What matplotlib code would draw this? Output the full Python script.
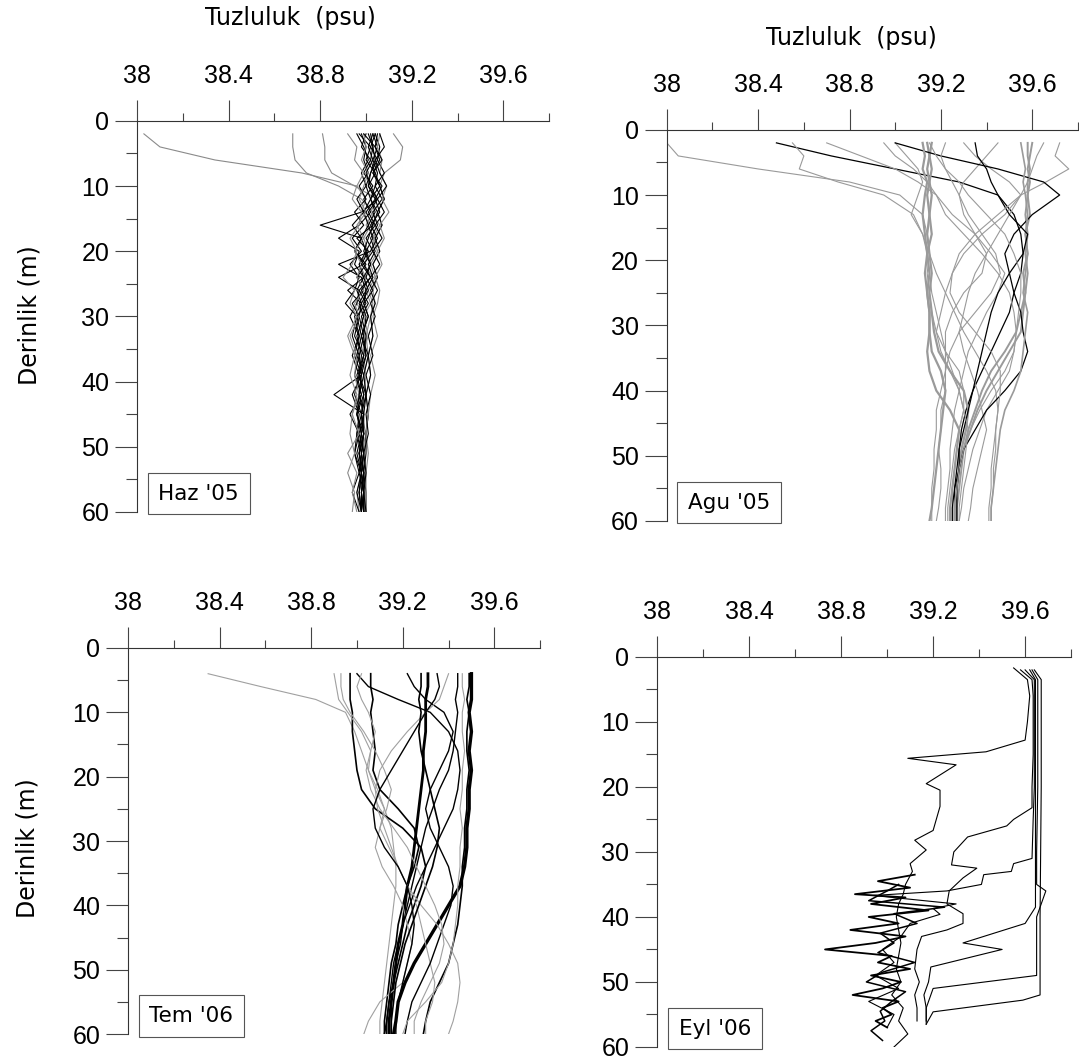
import numpy as np
import matplotlib
matplotlib.use("Agg")
import matplotlib.pyplot as plt
from matplotlib.ticker import MultipleLocator

# --- Haz '05 : salinity (psu) at shared depths (m) ---
haz_depth = [2, 4, 6, 8, 10, 12, 14, 16, 18, 20, 22, 24, 26, 28, 30,
             33, 36, 39, 42, 45, 48, 51, 54, 57, 60]
haz_profiles = [
    [38.03, 38.10, 38.34, 38.72, 38.96, 39.00, 38.98, 39.02, 38.99, 39.01, 38.97, 39.00, 38.98, 38.96, 38.99, 38.97, 38.99, 38.98, 38.97, 38.99, 38.98, 38.99, 38.98, 38.99, 38.99],
    [38.68, 38.68, 38.69, 38.74, 38.88, 38.98, 39.03, 39.00, 39.04, 39.02, 38.99, 39.03, 39.00, 39.02, 38.99, 39.01, 38.98, 39.00, 38.99, 38.98, 39.00, 38.98, 38.99, 38.97, 38.98],
    [38.81, 38.82, 38.82, 38.85, 38.95, 39.05, 39.02, 39.06, 39.03, 39.05, 39.02, 39.04, 39.01, 39.03, 39.02, 39.00, 39.01, 38.99, 39.00, 38.98, 38.99, 38.97, 38.98, 38.96, 38.97],
    [39.12, 39.16, 39.15, 39.08, 39.06, 39.08, 39.05, 39.07, 39.04, 39.06, 39.03, 39.05, 39.03, 39.04, 39.02, 39.03, 39.01, 39.02, 39.00, 39.01, 39.00, 38.99, 39.00, 38.99, 38.99],
    [38.97, 39.02, 39.00, 39.04, 39.01, 39.05, 38.98, 38.80, 38.98, 38.95, 39.00, 38.96, 38.99, 38.94, 38.97, 38.95, 38.99, 38.96, 38.98, 38.96, 38.99, 38.97, 38.99, 38.98, 38.99],
    [39.00, 38.98, 39.02, 38.99, 39.03, 38.99, 39.02, 38.97, 38.88, 38.97, 38.95, 38.99, 38.92, 38.98, 38.95, 38.97, 38.94, 38.97, 38.95, 38.98, 38.96, 38.98, 38.97, 38.99, 38.98],
    [39.05, 39.04, 39.06, 39.03, 39.07, 39.04, 39.06, 39.02, 39.05, 39.02, 38.88, 38.98, 39.00, 38.97, 38.99, 38.96, 38.98, 38.97, 38.99, 38.96, 38.98, 38.97, 38.98, 38.97, 38.98],
    [39.03, 39.05, 39.03, 39.05, 39.04, 39.02, 39.04, 39.01, 39.03, 39.00, 39.02, 38.99, 39.01, 38.98, 39.00, 38.99, 39.00, 38.98, 38.86, 38.99, 38.97, 38.99, 38.98, 38.99, 38.99],
    [39.01, 39.03, 39.02, 39.04, 39.06, 39.08, 39.05, 39.07, 39.04, 39.06, 39.03, 39.05, 39.02, 39.04, 39.02, 39.03, 39.01, 39.02, 39.00, 39.01, 39.00, 39.00, 38.99, 39.00, 39.00],
    [38.98, 39.00, 38.99, 39.01, 38.97, 39.00, 38.95, 38.99, 38.94, 38.98, 38.93, 38.97, 38.95, 38.91, 38.96, 38.94, 38.97, 38.95, 38.98, 38.93, 38.97, 38.95, 38.98, 38.96, 38.98],
    [39.04, 39.06, 39.05, 39.08, 39.04, 39.07, 39.03, 39.05, 39.02, 39.04, 39.01, 39.03, 39.00, 38.99, 39.01, 38.98, 39.00, 38.97, 38.99, 38.98, 38.99, 38.98, 38.99, 38.98, 38.99],
    [38.96, 38.99, 39.01, 38.98, 39.00, 38.96, 38.99, 38.94, 38.98, 38.95, 38.99, 38.88, 38.97, 38.96, 38.93, 38.97, 38.95, 38.98, 38.94, 38.97, 38.96, 38.95, 38.97, 38.94, 38.97],
    [39.06, 39.05, 39.07, 39.06, 39.09, 39.07, 39.10, 39.06, 39.08, 39.05, 39.07, 39.04, 39.06, 39.05, 39.03, 39.05, 39.02, 39.04, 39.02, 39.01, 39.00, 39.01, 39.00, 39.00, 39.00],
    [39.02, 39.03, 39.04, 39.02, 39.00, 39.02, 38.99, 39.01, 38.98, 39.00, 38.97, 38.99, 38.96, 38.98, 38.97, 38.99, 38.97, 38.98, 38.97, 38.99, 38.98, 38.99, 38.98, 38.99, 38.99],
    [38.99, 39.00, 38.98, 39.01, 38.99, 38.97, 39.00, 38.96, 38.99, 38.95, 38.98, 38.96, 38.99, 38.95, 38.97, 38.93, 38.96, 38.95, 38.97, 38.94, 38.97, 38.92, 38.96, 38.94, 38.96],
    [39.03, 39.01, 39.03, 39.00, 39.02, 39.05, 39.01, 39.04, 39.00, 39.03, 38.99, 39.02, 38.98, 39.01, 38.98, 39.00, 38.99, 38.97, 39.00, 38.98, 38.99, 38.97, 38.99, 38.98, 38.98],
    [38.99, 39.04, 39.07, 39.03, 39.06, 39.02, 39.05, 39.03, 38.96, 39.01, 38.98, 39.02, 38.97, 39.00, 38.96, 38.98, 38.96, 38.99, 38.97, 38.96, 38.98, 38.96, 38.98, 38.97, 38.98],
    [39.04, 39.02, 39.05, 39.02, 39.01, 39.04, 39.00, 39.03, 39.01, 38.99, 39.02, 39.00, 39.03, 38.99, 39.01, 38.98, 39.01, 38.99, 39.00, 38.99, 38.99, 38.98, 38.99, 38.99, 38.99],
    [38.92, 38.96, 38.95, 38.99, 38.96, 38.94, 38.98, 38.97, 38.93, 38.96, 38.94, 38.90, 38.95, 38.93, 38.96, 38.92, 38.95, 38.93, 38.96, 38.94, 38.93, 38.95, 38.92, 38.95, 38.94],
    [39.06, 39.08, 39.04, 39.06, 39.09, 39.05, 39.08, 39.04, 39.07, 39.03, 39.06, 39.02, 39.05, 39.02, 39.04, 39.01, 39.03, 39.00, 39.02, 39.00, 39.01, 38.99, 39.00, 38.99, 39.00],
]

# --- Agu '05 ---
agu_depth = [2, 4, 6, 8, 10, 13, 16, 19, 22, 25, 28, 31, 34, 37, 40,
             43, 46, 49, 52, 55, 58, 60]
agu_profiles = [
    [38.00, 38.05, 38.40, 38.80, 39.02, 39.12, 39.14, 39.15, 39.14, 39.15, 39.16, 39.18, 39.22, 39.28, 39.30, 39.30, 39.28, 39.27, 39.26, 39.25, 39.25, 39.25],
    [38.48, 38.72, 39.00, 39.28, 39.45, 39.52, 39.55, 39.56, 39.55, 39.52, 39.50, 39.46, 39.42, 39.38, 39.34, 39.31, 39.29, 39.28, 39.27, 39.26, 39.26, 39.26],
    [39.14, 39.15, 39.14, 39.15, 39.14, 39.15, 39.14, 39.15, 39.16, 39.15, 39.16, 39.17, 39.19, 39.24, 39.30, 39.32, 39.31, 39.29, 39.28, 39.27, 39.26, 39.26],
    [39.16, 39.15, 39.16, 39.15, 39.16, 39.15, 39.16, 39.14, 39.15, 39.14, 39.15, 39.15, 39.16, 39.20, 39.22, 39.21, 39.20, 39.19, 39.18, 39.17, 39.16, 39.15],
    [39.58, 39.58, 39.59, 39.58, 39.58, 39.57, 39.58, 39.57, 39.58, 39.57, 39.56, 39.55, 39.50, 39.45, 39.40, 39.36, 39.33, 39.30, 39.28, 39.27, 39.26, 39.26],
    [39.60, 39.59, 39.58, 39.59, 39.58, 39.59, 39.57, 39.58, 39.56, 39.57, 39.55, 39.53, 39.48, 39.42, 39.38, 39.35, 39.32, 39.30, 39.29, 39.28, 39.27, 39.27],
    [38.70, 38.85, 39.00, 39.10, 39.18, 39.22, 39.30, 39.38, 39.45, 39.50, 39.52, 39.53, 39.52, 39.50, 39.45, 39.40, 39.37, 39.34, 39.32, 39.30, 39.29, 39.28],
    [39.30, 39.35, 39.42, 39.50, 39.55, 39.48, 39.38, 39.30, 39.25, 39.22, 39.20, 39.18, 39.20, 39.24, 39.28, 39.30, 39.28, 39.26, 39.25, 39.24, 39.23, 39.23],
    [39.72, 39.70, 39.76, 39.66, 39.55, 39.50, 39.45, 39.40, 39.35, 39.32, 39.30, 39.28, 39.30, 39.33, 39.36, 39.38, 39.40, 39.38, 39.36, 39.34, 39.33, 39.32],
    [39.00, 39.05, 39.10, 39.12, 39.10, 39.07, 39.12, 39.15, 39.18, 39.22, 39.26, 39.30, 39.35, 39.40, 39.44, 39.45, 39.44, 39.43, 39.42, 39.42, 39.41, 39.41],
    [39.45, 39.40, 39.35, 39.30, 39.28, 39.30, 39.35, 39.42, 39.48, 39.45, 39.40, 39.36, 39.32, 39.30, 39.28, 39.26, 39.25, 39.24, 39.24, 39.23, 39.22, 39.22],
    [39.00, 39.20, 39.45, 39.65, 39.72, 39.60, 39.52, 39.48, 39.50, 39.52, 39.55, 39.56, 39.58, 39.55, 39.48, 39.40, 39.35, 39.30, 39.28, 39.26, 39.25, 39.25],
    [39.22, 39.20, 39.22, 39.25, 39.28, 39.32, 39.38, 39.44, 39.46, 39.42, 39.35, 39.28, 39.24, 39.22, 39.22, 39.20, 39.20, 39.19, 39.20, 39.20, 39.19, 39.18],
    [39.12, 39.13, 39.12, 39.14, 39.13, 39.12, 39.13, 39.14, 39.13, 39.14, 39.15, 39.15, 39.14, 39.15, 39.18, 39.24, 39.28, 39.27, 39.26, 39.25, 39.24, 39.24],
    [39.55, 39.56, 39.57, 39.56, 39.57, 39.58, 39.57, 39.58, 39.57, 39.56, 39.58, 39.57, 39.56, 39.55, 39.52, 39.48, 39.46, 39.45, 39.44, 39.43, 39.42, 39.42],
    [39.35, 39.36, 39.40, 39.42, 39.45, 39.50, 39.58, 39.56, 39.50, 39.45, 39.42, 39.40, 39.38, 39.36, 39.34, 39.32, 39.30, 39.28, 39.28, 39.27, 39.27, 39.27],
    [38.95, 39.00, 39.08, 39.14, 39.18, 39.25, 39.35, 39.40, 39.38, 39.30, 39.25, 39.22, 39.22, 39.25, 39.28, 39.30, 39.32, 39.31, 39.30, 39.29, 39.28, 39.28],
    [39.65, 39.62, 39.60, 39.58, 39.55, 39.45, 39.35, 39.28, 39.25, 39.24, 39.28, 39.35, 39.42, 39.46, 39.46, 39.45, 39.44, 39.44, 39.43, 39.43, 39.42, 39.42],
    [39.15, 39.18, 39.22, 39.28, 39.32, 39.40, 39.48, 39.52, 39.55, 39.55, 39.54, 39.53, 39.52, 39.48, 39.42, 39.37, 39.33, 39.30, 39.28, 39.27, 39.26, 39.26],
    [38.55, 38.60, 38.58, 38.75, 38.95, 39.08, 39.12, 39.14, 39.15, 39.16, 39.18, 39.20, 39.22, 39.22, 39.20, 39.18, 39.18, 39.17, 39.17, 39.16, 39.16, 39.16],
]

# --- Tem '06 ---
tem_depth = [4, 6, 8, 10, 13, 16, 19, 22, 25, 28, 31, 34, 37, 40,
             43, 46, 49, 52, 55, 58, 60]
tem_profiles = [
    [38.35, 38.58, 38.82, 38.95, 38.99, 39.02, 39.05, 39.08, 39.12, 39.15, 39.16, 39.17, 39.17, 39.16, 39.15, 39.14, 39.13, 39.12, 39.11, 39.10, 39.10],
    [39.50, 39.50, 39.50, 39.49, 39.50, 39.49, 39.50, 39.49, 39.49, 39.48, 39.48, 39.47, 39.45, 39.40, 39.35, 39.30, 39.25, 39.21, 39.18, 39.17, 39.16],
    [39.49, 39.49, 39.48, 39.49, 39.48, 39.48, 39.49, 39.48, 39.48, 39.47, 39.47, 39.46, 39.46, 39.45, 39.44, 39.42, 39.40, 39.36, 39.32, 39.30, 39.29],
    [39.31, 39.31, 39.30, 39.30, 39.30, 39.29, 39.29, 39.28, 39.27, 39.26, 39.25, 39.24, 39.22, 39.21, 39.20, 39.18, 39.17, 39.16, 39.15, 39.14, 39.14],
    [38.97, 38.97, 38.97, 38.98, 38.98, 38.99, 39.00, 39.02, 39.08, 39.20, 39.28, 39.30, 39.28, 39.25, 39.22, 39.20, 39.18, 39.16, 39.14, 39.13, 39.12],
    [39.06, 39.06, 39.07, 39.06, 39.07, 39.08, 39.07, 39.10, 39.18, 39.25, 39.27, 39.25, 39.22, 39.20, 39.18, 39.17, 39.15, 39.14, 39.13, 39.12, 39.12],
    [39.44, 39.44, 39.43, 39.44, 39.43, 39.42, 39.40, 39.36, 39.33, 39.30, 39.28, 39.26, 39.24, 39.22, 39.20, 39.19, 39.17, 39.16, 39.15, 39.15, 39.15],
    [38.90, 38.91, 38.92, 38.96, 39.02, 39.06, 39.05, 39.09, 39.12, 39.10, 39.14, 39.18, 39.22, 39.26, 39.28, 39.30, 39.32, 39.34, 39.33, 39.30, 39.30],
    [38.93, 38.93, 38.94, 38.97, 39.03, 39.08, 39.12, 39.15, 39.13, 39.10, 39.08, 39.11, 39.16, 39.20, 39.22, 39.24, 39.22, 39.20, 39.10, 39.05, 39.03],
    [39.22, 39.25, 39.30, 39.38, 39.42, 39.40, 39.36, 39.32, 39.30, 39.32, 39.36, 39.40, 39.42, 39.41, 39.38, 39.35, 39.32, 39.28, 39.24, 39.22, 39.21],
    [39.00, 39.05, 39.18, 39.32, 39.40, 39.44, 39.45, 39.44, 39.42, 39.38, 39.34, 39.30, 39.26, 39.23, 39.20, 39.18, 39.16, 39.15, 39.14, 39.13, 39.13],
    [39.40, 39.38, 39.36, 39.30, 39.22, 39.15, 39.10, 39.08, 39.09, 39.12, 39.15, 39.18, 39.22, 39.28, 39.35, 39.40, 39.44, 39.45, 39.44, 39.42, 39.40],
    [39.28, 39.28, 39.27, 39.28, 39.27, 39.28, 39.30, 39.32, 39.34, 39.36, 39.35, 39.33, 39.30, 39.27, 39.24, 39.21, 39.19, 39.17, 39.16, 39.15, 39.15],
    [39.02, 39.00, 39.02, 39.05, 39.08, 39.06, 39.04, 39.06, 39.10, 39.16, 39.22, 39.26, 39.30, 39.34, 39.37, 39.38, 39.36, 39.32, 39.28, 39.25, 39.25],
    [39.35, 39.36, 39.34, 39.30, 39.25, 39.20, 39.15, 39.10, 39.07, 39.08, 39.12, 39.18, 39.22, 39.24, 39.25, 39.24, 39.22, 39.20, 39.18, 39.17, 39.17],
    [39.46, 39.46, 39.47, 39.46, 39.46, 39.47, 39.46, 39.46, 39.45, 39.46, 39.45, 39.45, 39.44, 39.44, 39.43, 39.42, 39.40, 39.37, 39.30, 39.22, 39.20],
]

# --- Eyl '06 : each cast has its own depths ---
eyl_depths = [
    [1.7, 3.5, 6, 10, 12.8, 14.6, 15.6, 16.6, 19.5, 20.5, 23, 26.7, 28.2, 29.7, 31.8, 33, 35, 36.5, 38, 40, 42, 44, 46, 48, 50, 52, 54, 56, 58, 60],
    [2, 3.5, 6, 10, 15, 20, 23.2, 25, 26, 27.7, 30, 32, 32.5, 34, 36, 38, 39.5, 41, 42, 43, 45, 48, 50, 52, 54, 56],
    [2, 3.5, 6, 10, 15, 20, 25, 31, 31.8, 33, 33.5, 35, 36, 36.7, 38, 38.7, 39.6, 41, 43, 45, 47, 49, 51, 53, 55, 57],
    [2, 3.5, 6, 10, 20, 30, 38.5, 41, 44, 45, 47.7, 50, 52, 54, 56],
    [2, 3.5, 6, 10, 20, 30, 35, 36, 40, 49, 51, 54, 56.5],
    [2, 3.5, 6, 20, 40, 50, 52, 52.8, 54.6, 56.5],
    [33.5, 34.5, 35.5, 36.5, 37, 38, 39, 40, 41, 42, 43, 44, 45, 46, 47, 48, 49, 50, 51, 52, 53, 54, 55, 56, 57],
    [35, 36, 37.5, 38.5, 39.5, 41, 42.5, 44, 45.5, 47, 48.5, 50, 51.5, 53, 54.5, 56, 57.5, 59],
]
eyl_profiles = [
    [39.55, 39.61, 39.62, 39.61, 39.60, 39.43, 39.09, 39.30, 39.17, 39.23, 39.23, 39.20, 39.12, 39.17, 39.10, 39.11, 39.08, 39.07, 39.05, 39.04, 39.05, 39.06, 39.05, 39.04, 39.06, 39.02, 39.07, 39.05, 39.09, 39.03],
    [39.58, 39.63, 39.635, 39.635, 39.635, 39.63, 39.63, 39.55, 39.52, 39.35, 39.29, 39.28, 39.39, 39.33, 39.27, 39.26, 39.33, 39.33, 39.26, 39.15, 39.13, 39.12, 39.14, 39.12, 39.13, 39.13],
    [39.60, 39.64, 39.64, 39.64, 39.64, 39.64, 39.635, 39.63, 39.55, 39.54, 39.42, 39.41, 39.26, 38.94, 39.30, 39.20, 39.23, 39.10, 39.06, 38.98, 39.03, 38.95, 39.05, 38.92, 39.03, 39.00],
    [39.62, 39.645, 39.645, 39.645, 39.645, 39.645, 39.645, 39.60, 39.33, 39.50, 39.19, 39.18, 39.16, 39.17, 39.17],
    [39.63, 39.655, 39.655, 39.655, 39.655, 39.65, 39.65, 39.69, 39.65, 39.65, 39.20, 39.17, 39.17],
    [39.64, 39.67, 39.67, 39.67, 39.665, 39.665, 39.665, 39.59, 39.20, 39.17],
    [39.12, 38.96, 39.10, 38.86, 39.08, 38.93, 39.18, 38.92, 39.05, 38.84, 39.08, 38.95, 38.73, 39.02, 38.96, 39.10, 38.93, 39.06, 38.98, 38.85, 39.05, 38.98, 39.02, 38.95, 39.00],
    [39.05, 39.00, 38.92, 39.25, 39.03, 39.13, 38.97, 39.03, 38.96, 39.12, 38.98, 38.91, 39.08, 39.02, 38.97, 38.99, 38.93, 38.98],
]

panel_labels = ["Haz '05", "Agu '05", "Tem '06", "Eyl '06"]
sal_ticks = [38, 38.4, 38.8, 39.2, 39.6]
sal_ticklabels = ["38", "38.4", "38.8", "39.2", "39.6"]
depth_ticks = [0, 10, 20, 30, 40, 50, 60]

# line colour per cast (k = black, g = grey) and line widths
haz_colors = "ggggkkkkkkkkgkgkkkgk"
agu_colors = "gkgggggggggkgggkgggg"
tem_colors = "gkkkkkkggkkgkgkg"
eyl_colors = "kkkkkkkk"
haz_widths = [0.8] * 20
agu_widths = [0.8, 0.9, 1.6, 1.6, 1.4, 1.4, 0.8, 0.8, 0.8, 0.8,
              0.8, 0.9, 0.8, 1.6, 1.2, 0.9, 0.8, 0.8, 0.8, 0.8]
tem_widths = [0.8, 2.4, 1.2, 2.0, 1.2, 1.2, 1.0, 0.8, 0.8, 1.0,
              1.0, 0.8, 1.2, 0.8, 1.0, 0.8]
eyl_widths = [0.8, 0.8, 0.8, 0.8, 0.8, 0.8, 1.3, 1.1]

GREY = {"Haz": "#8a8a8a", "Agu": "#9a9a9a", "Tem": "#a0a0a0", "Eyl": "#555555"}

TICK_FONT = "Liberation Sans"
TEXT_FONT = "DejaVu Sans"


def draw_panel(ax, depths, profiles, colors, widths, grey, label):
    for d, s, c, w in zip(depths, profiles, colors, widths):
        ax.plot(s, d, color="black" if c == "k" else grey, lw=w)

    ax.set_xlim(38, 39.8)
    ax.set_ylim(60, 0)
    ax.xaxis.tick_top()
    ax.set_xticks(sal_ticks)
    ax.set_xticklabels(sal_ticklabels)
    ax.xaxis.set_minor_locator(MultipleLocator(0.2))
    ax.set_yticks(depth_ticks)
    ax.yaxis.set_minor_locator(MultipleLocator(5))
    for side in ("bottom", "right"):
        ax.spines[side].set_visible(False)
    for side in ("top", "left"):
        ax.spines[side].set_linewidth(0.8)
        ax.spines[side].set_color("#333333")
    ax.tick_params(axis="x", which="major", length=15, width=0.8, pad=9,
                   labelsize=18, color="#444444")
    ax.tick_params(axis="x", which="minor", length=6, width=0.8,
                   color="#444444")
    ax.tick_params(axis="y", which="major", length=16, width=0.8, pad=4,
                   labelsize=18, color="#444444")
    ax.tick_params(axis="y", which="minor", length=8, width=0.8,
                   color="#444444")
    for t in ax.get_xticklabels() + ax.get_yticklabels():
        t.set_fontfamily(TICK_FONT)

    ax.text(0.052, 0.047, label, transform=ax.transAxes, fontsize=15.5,
            family=TEXT_FONT, ha="left", va="center",
            bbox=dict(boxstyle="square,pad=0.5", fc="white",
                      ec="#555555", lw=0.8))


fig = plt.figure(figsize=(10.79, 10.60), dpi=100)

ax_tl = fig.add_axes([0.127, 0.517, 0.382, 0.369])
ax_tr = fig.add_axes([0.618, 0.5085, 0.381, 0.369])
ax_bl = fig.add_axes([0.1186, 0.0245, 0.382, 0.3642])
ax_br = fig.add_axes([0.609, 0.0123, 0.3837, 0.368])

draw_panel(ax_tl, [haz_depth] * len(haz_profiles), haz_profiles,
           haz_colors, haz_widths, GREY["Haz"], panel_labels[0])
draw_panel(ax_tr, [agu_depth] * len(agu_profiles), agu_profiles,
           agu_colors, agu_widths, GREY["Agu"], panel_labels[1])
draw_panel(ax_bl, [tem_depth] * len(tem_profiles), tem_profiles,
           tem_colors, tem_widths, GREY["Tem"], panel_labels[2])
draw_panel(ax_br, eyl_depths, eyl_profiles,
           eyl_colors, eyl_widths, GREY["Eyl"], panel_labels[3])

ax_tl.text(0.371, 1.263, "Tuzluluk  (psu)", transform=ax_tl.transAxes,
           fontsize=17, family=TEXT_FONT, ha="center", va="center")
ax_tr.text(0.45, 1.235, "Tuzluluk  (psu)", transform=ax_tr.transAxes,
           fontsize=17, family=TEXT_FONT, ha="center", va="center")

fig.text(30 / 1079, 1 - 315 / 1060, "Derinlik (m)", rotation=90,
         fontsize=17, family=TEXT_FONT, ha="center", va="center")
fig.text(27 / 1079, 1 - 848 / 1060, "Derinlik (m)", rotation=90,
         fontsize=17, family=TEXT_FONT, ha="center", va="center")

fig.savefig("out.png", dpi=100)
